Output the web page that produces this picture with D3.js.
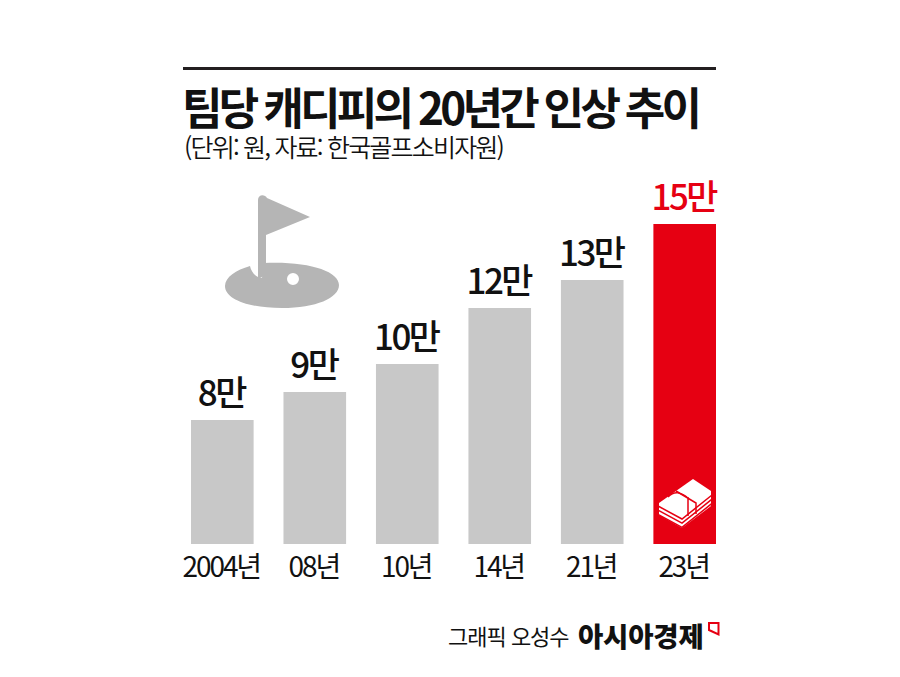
<!DOCTYPE html>
<html lang="ko"><head><meta charset="utf-8">
<script src="https://cdn.jsdelivr.net/npm/d3@7"></script>
<style>html,body{margin:0;padding:0;background:#fff}svg{display:block}text{font-family:"Noto Sans CJK KR","Noto Sans",sans-serif;fill:#111}</style>
</head><body><svg id="c" width="900" height="677"></svg>
<script>
const categories=["2004년","08년","10년","14년","21년","23년"];
const values=[8,9,10,12,13,15];
const valueLabels=["8만","9만","10만","12만","13만","15만"];
const titleText="팀당 캐디피의 20년간 인상 추이";
const subtitleText="(단위: 원, 자료: 한국골프소비자원)";
const creditText="그래픽 오성수";
const brandText="아시아경제";
const svg=d3.select("#c");
const x=d3.scaleBand().domain(categories).range([191,716]).paddingInner(0.323).paddingOuter(0);
const y=d3.scaleLinear().domain([3.571,15]).range([544,224]);
svg.append("rect").attr("x",183).attr("y",67).attr("width",533).attr("height",3).attr("fill","#231f20");
svg.append("text").attr("x",182).attr("y",125).attr("font-size",44).attr("font-weight",700).attr("letter-spacing",-3.7).attr("word-spacing",-1).text(titleText);
svg.append("text").attr("x",184).attr("y",157).attr("font-size",25).attr("font-weight",350).attr("letter-spacing",-1.8).text(subtitleText);
svg.selectAll("rect.bar").data(categories).join("rect").attr("class","bar")
 .attr("x",d=>x(d)).attr("width",x.bandwidth())
 .attr("y",(d,i)=>y(values[i])).attr("height",(d,i)=>y.range()[0]-y(values[i]))
 .attr("fill",(d,i)=>i===5?"#e60012":"#c8c8c8");
svg.selectAll("text.val").data(categories).join("text").attr("class","val")
 .attr("x",d=>x(d)+x.bandwidth()/2-1).attr("y",(d,i)=>y(values[i])-14)
 .attr("text-anchor","middle").attr("font-size",35).attr("letter-spacing",-2.6).attr("font-weight",500)
 .style("fill",(d,i)=>i===5?"#e60012":"#111").text((d,i)=>valueLabels[i]);
svg.selectAll("text.cat").data(categories).join("text").attr("class","cat")
 .attr("x",d=>x(d)+x.bandwidth()/2-1).attr("y",577)
 .attr("text-anchor","middle").attr("font-size",28).attr("font-weight",400).attr("letter-spacing",-2.1).text(d=>d);
svg.append("text").attr("x",448).attr("y",645).attr("font-size",22).attr("font-weight",400).attr("letter-spacing",-1).text(creditText);
svg.append("text").attr("x",578).attr("y",647).attr("font-size",27.5).attr("font-weight",900).attr("letter-spacing",-0.2).text(brandText);
// logo mark
svg.append("path").attr("d","M709 623H718.500V634.500L709 630Z").attr("fill","none").attr("stroke","#e60012").attr("stroke-width",2);
// golf icon
const g=svg.append("g").attr("fill","#b5b5b5");
g.append("path").attr("fill-rule","evenodd").attr("d","M250 266C236 270 225 277 225 286C225 299 248 308 282 308C316 308 339 298 339 285C339 271 308 261 264 263L262 278L258 277C254 275 251 271 250 266ZM293 273A6 6 0 1 0 293 285A6 6 0 1 0 293 273Z");
g.append("path").attr("d","M258 200C258 194 265 194 267 198L310 217L266 235V275L258 279Z");
// money icon
svg.append("path").attr("fill","#fff").attr("d","M659 503L693 479L711 491V506L682 528L659 515Z");
const m=svg.append("g").attr("fill","none").attr("stroke","#e60012").attr("stroke-width",1.5);
[0,1,2].forEach(i=>{m.append("path").attr("d",`M658 ${506+i*4.2}L682 ${519+i*4.2}L712 ${495+i*4.2}`);});
m.append("path").attr("d","M676 491L696 503V514M688 497V516");
m.append("path").attr("d","M668 497C675 490 681 493 687 497");
</script></body></html>
